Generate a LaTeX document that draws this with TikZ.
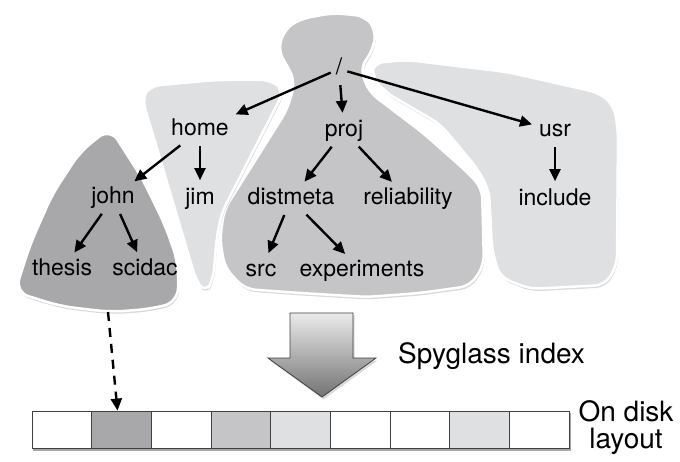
\documentclass[tikz,border=0pt]{standalone}
\usepackage{fontspec}
\setmainfont{TeX Gyre Heros}
\usetikzlibrary{arrows.meta,positioning,shadows}
\definecolor{darkpart}{RGB}{168,168,171}
\definecolor{midpart}{RGB}{197,197,199}
\definecolor{lightpart}{RGB}{223,224,226}

\begin{document}
\begin{tikzpicture}
    [x=1pt,y=-1pt,node distance=40pt,
    dir/.style={inner sep=3pt,text height=17pt,text depth=5pt,
    font=\fontsize{23}{26}\selectfont},
    link/.style={-{Triangle[length=12pt,width=11pt]},line width=2.4pt,
    shorten >=4pt,shorten <=2pt},
    part/.style={draw=white,line width=2.5pt,rounded corners=10pt,
    drop shadow={opacity=0.3,shadow xshift=1pt,shadow yshift=-2.5pt}},
    cell/.style={draw=black!75,line width=0.8pt,inner sep=0pt,
    minimum width=59.67pt,minimum height=37pt},
    caption/.style={font=\fontsize{28}{27}\selectfont,align=center,inner sep=0pt}]
    \useasboundingbox (0,0) rectangle (680,462);
    \fill[part,fill=midpart] (278,52) -- (284,30) -- (300,19) -- (333,13) -- (365,16)
      -- (376,30) -- (373,50) -- (360,68) -- (369,92) -- (423,133) -- (467,172)
      -- (482,188) -- (484,265) -- (470,286) -- (420,293) -- (367,297) -- (300,293)
      -- (245,289) -- (225,268) -- (220,240) -- (224,210) -- (287,110) -- (295,83)
      -- (288,66) -- cycle;
    \fill[part,fill=lightpart] (373,63) -- (407,60) -- (507,72) -- (600,93) -- (614,106)
      -- (618,130) -- (617,265) -- (605,285) -- (530,289) -- (500,277) -- (492,250)
      -- (489,190) -- (477,168) -- (440,124) -- (385,92) -- (372,76) -- cycle;
    \fill[part,fill=lightpart] (142,98) -- (150,86) -- (215,80) -- (272,80) -- (284,91)
      -- (222,212) -- (217,235) -- (213,280) -- (205,293) -- (196,280) -- cycle;
    \fill[part,fill=darkpart,rounded corners=14pt] (110,128) -- (80,152) -- (52,195)
      -- (30,245) -- (15,292) -- (60,306) -- (110,312) -- (150,309) -- (178,302)
      -- (178,262) -- (165,225) -- (142,178) -- cycle;
    \node[dir] (root) at (339,69) {/};
    \node[dir] (home) at (200,130) {home};
    \node[dir] (proj) at (344,131) {proj};
    \node[dir] (usr) at (555,131) {usr};
    \node[dir] (john) at (113,198) {john};
    \node[dir] (jim) [below=of home] {jim};
    \node[dir] (distmeta) at (291,199) {distmeta};
    \node[dir] (reliability) at (408,199) {reliability};
    \node[dir] (include) [below=of usr] {include};
    \node[dir] (thesis) at (62,270) {thesis};
    \node[dir] (scidac) at (145,270) {scidac};
    \node[dir] (src) at (261,271) {src};
    \node[dir] (experiments) at (362,271) {experiments};
    \draw[link] (root) -- (home);
    \draw[link] (root) -- (proj);
    \draw[link] (root) -- (usr);
    \draw[link] (home) -- (john);
    \draw[link] (home) -- (jim);
    \draw[link] (proj) -- (distmeta);
    \draw[link] (proj) -- (reliability);
    \draw[link] (usr) -- (include);
    \draw[link] (john) -- (thesis);
    \draw[link] (john) -- (scidac);
    \draw[link] (distmeta) -- (src);
    \draw[link] (distmeta) -- (experiments);
    \draw[draw=black!75,line width=0.8pt,top color=black!8,bottom color=black!55,
      drop shadow={opacity=0.3,shadow xshift=1.5pt,shadow yshift=-2.5pt}]
      (290,313) -- (353,313) -- (353,358) -- (376,358) -- (322,397) -- (268,358)
      -- (290,358) -- cycle;
    \node[caption,anchor=base west] (spyglass) at (398,363) {Spyglass index};
    \fill[black!35] (33,413) rectangle (571,451);
    \foreach \i/\tone in {1/white,2/darkpart,3/white,4/midpart,5/lightpart,
      6/white,7/white,8/lightpart,9/white}
      \node[cell,fill=\tone] (b\i) at ({32+59.67*(\i-0.5)},429.5) {};
    \node[caption] (ondisk) at (626,428) {On disk\\layout};
    \coordinate (drop) at (108,312);
    \draw[-{Triangle[length=12pt,width=11pt]},line width=2.4pt,
      dash pattern=on 9pt off 7pt] (drop) -- ([xshift=-4pt]b2.north);
\end{tikzpicture}
\end{document}
